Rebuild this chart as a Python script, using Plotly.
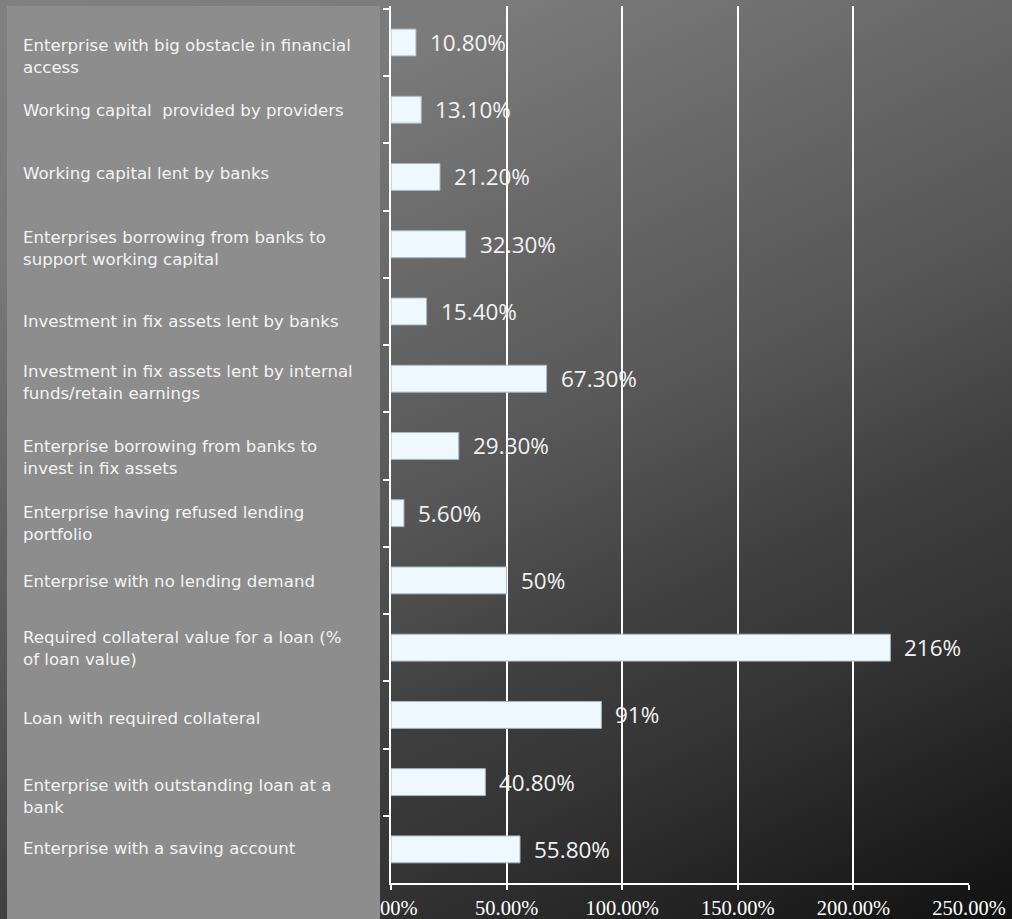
import base64
import plotly.graph_objects as go

# ---- data -------------------------------------------------------------
categories = [
    "Enterprise with big obstacle in financial<br>access",
    "Working capital\u00a0 provided by providers",
    "Working capital lent by banks",
    "Enterprises borrowing from banks to<br>support working capital",
    "Investment in fix assets lent by banks",
    "Investment in fix assets lent by internal<br>funds/retain earnings",
    "Enterprise borrowing from banks to<br>invest in fix assets",
    "Enterprise having refused lending<br>portfolio",
    "Enterprise with no lending demand",
    "Required collateral value for a loan (%<br>of loan value)",
    "Loan with required collateral",
    "Enterprise with outstanding loan at a<br>bank",
    "Enterprise with a saving account",
]
values = [10.8, 13.1, 21.2, 32.3, 15.4, 67.3, 29.3, 5.6, 50, 216, 91, 40.8, 55.8]
value_labels = ["10.80%", "13.10%", "21.20%", "32.30%", "15.40%", "67.30%",
                "29.30%", "5.60%", "50%", "216%", "91%", "40.80%", "55.80%"]
tick_vals = [0, 50, 100, 150, 200, 250]
tick_text = ["0.00%", "50.00%", "100.00%", "150.00%", "200.00%", "250.00%"]

# ---- styling ----------------------------------------------------------
W, H = 1012, 919
label_shift = [14, 1, -3, 4, 10, 4, 12, 10, 1, 1, 4, 14, -1]   # px, downwards
bg_stops = [(0.0, "#808080"), (0.18, "#7a7a7a"), (0.34, "#686868"),
            (0.515, "#555555"), (0.66, "#3f3f3f"), (0.765, "#343434"),
            (1.0, "#111111")]


def background_uri(w, h):
    stops = "".join(f'<stop offset="{o}" stop-color="{c}"/>' for o, c in bg_stops)
    svg = (f'<svg xmlns="http://www.w3.org/2000/svg" width="{w}" height="{h}" '
           f'viewBox="0 0 {w} {h}" preserveAspectRatio="none">'
           f'<defs><linearGradient id="g" gradientUnits="userSpaceOnUse" '
           f'x1="0" y1="0" x2="533" y2="1143">{stops}</linearGradient></defs>'
           f'<rect width="{w}" height="{h}" fill="url(#g)"/></svg>')
    return "data:image/svg+xml;base64," + base64.b64encode(svg.encode()).decode()


fig = go.Figure(
    go.Bar(
        x=values,
        y=categories,
        orientation="h",
        marker=dict(color="#f0f8ff", line=dict(color="#a9b6bd", width=1)),
        hoverinfo="skip",
    )
)

annotations = []
for cat, shift in zip(categories, label_shift):
    annotations.append(dict(
        x=21 / W, xref="paper", y=cat, yref="y",
        xanchor="left", yanchor="middle", align="left",
        yshift=-shift, showarrow=False, text=cat,
        font=dict(family="DejaVu Sans", size=16.6, color="#f4f4f4"),
    ))
for cat, val, lab in zip(categories, values, value_labels):
    annotations.append(dict(
        x=val, xref="x", y=cat, yref="y",
        xanchor="left", yanchor="middle", xshift=12,
        showarrow=False, text=lab,
        font=dict(family="Open Sans", size=22.5, color="#f2f2f2"),
    ))

fig.update_layout(
    width=W, height=H,
    margin=dict(l=0, r=0, t=0, b=0),
    paper_bgcolor="#555555",
    plot_bgcolor="rgba(0,0,0,0)",
    showlegend=False,
    bargap=0.6,
    images=[dict(
        source=background_uri(W, H), xref="paper", yref="paper",
        x=0, y=1, sizex=1, sizey=1, xanchor="left", yanchor="top",
        sizing="stretch", layer="below",
    )],
    shapes=[dict(
        type="rect", xref="paper", yref="paper",
        x0=7 / W, x1=380 / W, y0=-0.01, y1=(H - 6) / H,
        fillcolor="#8d8d8d", line=dict(width=0), layer="above",
    )],
    annotations=annotations,
    xaxis=dict(
        domain=[391 / W, 969 / W], range=[0, 250],
        tickvals=tick_vals, ticktext=tick_text,
        showgrid=True, gridcolor="#ffffff", gridwidth=1.5,
        zeroline=False, showline=True, linecolor="#ffffff", linewidth=2,
        ticks="outside", ticklen=5, tickcolor="#ffffff", tickwidth=1.5,
        ticklabelstandoff=0,
        tickfont=dict(family="Liberation Serif", size=20.5, color="#ffffff"),
        automargin=False, fixedrange=True,
    ),
    yaxis=dict(
        domain=[(H - 883) / H, (H - 6) / H],
        autorange="reversed", type="category",
        showticklabels=False, showgrid=False, zeroline=False,
        showline=True, linecolor="#ffffff", linewidth=2,
        ticks="outside", tickson="boundaries", ticklen=6,
        tickcolor="#ffffff", tickwidth=1.5,
        automargin=False, fixedrange=True,
    ),
)

fig.write_html("out.html")
